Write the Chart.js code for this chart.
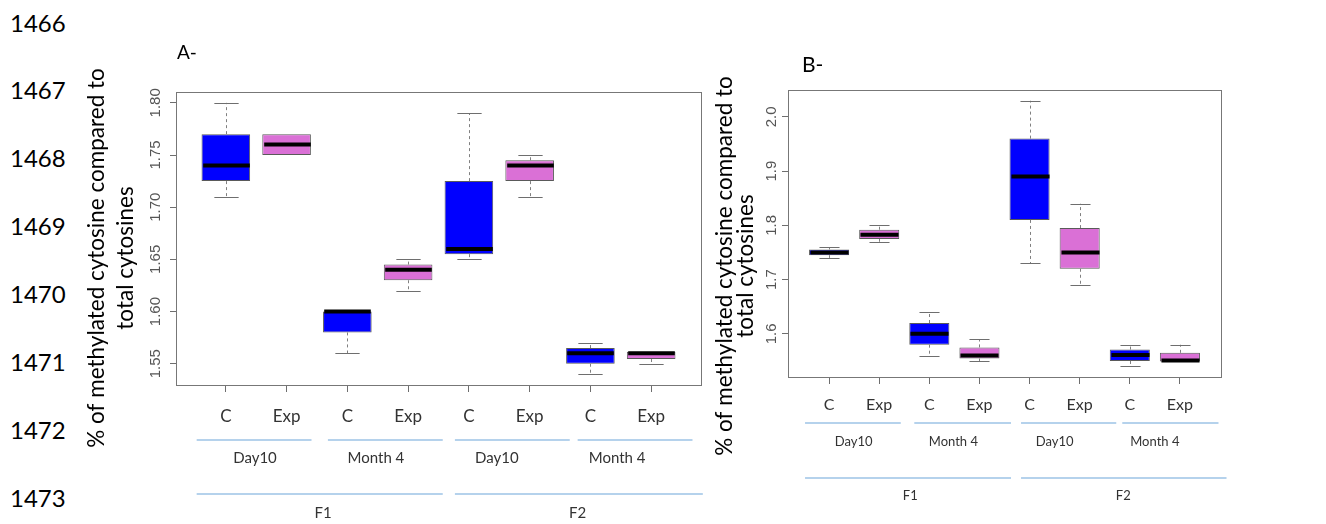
<!DOCTYPE html>
<html>
<head>
<meta charset="utf-8">
<script src="https://cdn.jsdelivr.net/npm/chart.js@4.4.1/dist/chart.umd.min.js"></script>
<style>
  body { margin: 0; background: #fff; width: 1326px; height: 524px; overflow: hidden; position: relative; font-family: Lato, sans-serif; }
  .ln { position: absolute; left: 10px; font-size: 24px; line-height: 24px; color: #000; }
  canvas { position: absolute; }
  #chartA { left: 80px; top: 40px; }
  #chartB { left: 700px; top: 40px; }
</style>
</head>
<body>
<div id="gutter"></div>
<canvas id="chartA" width="640" height="484"></canvas>
<canvas id="chartB" width="626" height="484"></canvas>
<script>
// line numbers of the manuscript page
const lineNumbers = ['1466', '1467', '1468', '1469', '1470', '1471', '1472', '1473'];

const categories = ['C', 'Exp', 'C', 'Exp', 'C', 'Exp', 'C', 'Exp'];
const periods = ['Day10', 'Month 4', 'Day10', 'Month 4'];
const generations = ['F1', 'F2'];
const yTitle = ['% of methylated cytosine compared to', 'total cytosines'];

// panel A box stats
const aLow = [1.71, 1.75, 1.56, 1.62, 1.65, 1.71, 1.54, 1.55];
const aQ1  = [1.725, 1.75, 1.58, 1.63, 1.655, 1.725, 1.55, 1.5545];
const aMed = [1.74, 1.76, 1.60, 1.64, 1.66, 1.74, 1.56, 1.56];
const aQ3  = [1.77, 1.77, 1.60, 1.645, 1.725, 1.745, 1.565, 1.5615];
const aHigh = [1.80, 1.77, 1.60, 1.65, 1.79, 1.75, 1.57, 1.5615];

// panel B box stats
const bLow = [1.74, 1.77, 1.56, 1.549, 1.73, 1.69, 1.54, 1.549];
const bQ1  = [1.745, 1.775, 1.58, 1.5545, 1.81, 1.72, 1.55, 1.549];
const bMed = [1.75, 1.7825, 1.60, 1.56, 1.89, 1.75, 1.561, 1.551];
const bQ3  = [1.7555, 1.792, 1.62, 1.575, 1.96, 1.795, 1.571, 1.565];
const bHigh = [1.76, 1.80, 1.64, 1.59, 2.03, 1.84, 1.58, 1.58];

const BLUE = '#0000ff';
const ORCHID = '#da70d6';
const fills = categories.map(c => c === 'C' ? BLUE : ORCHID);

// gutter line numbers
const gutter = document.getElementById('gutter');
lineNumbers.forEach((n, i) => {
    const d = document.createElement('div');
    d.className = 'ln';
    d.textContent = n;
    d.style.top = (10.5 + i * 67.9) + 'px';
    gutter.appendChild(d);
});

function line(ctx, x1, y1, x2, y2) {
    ctx.beginPath();
    ctx.moveTo(x1, y1);
    ctx.lineTo(x2, y2);
    ctx.stroke();
}

// draws whiskers, medians, frame, titles and the group brackets
function boxPlugin(st, L) {
    return {
        id: 'boxes',
        afterDatasetsDraw(chart) {
            const { ctx, scales: { x, y } } = chart;
            const bars = chart.getDatasetMeta(0).data;
            ctx.save();
            st.low.forEach((lo, i) => {
                const cx = Math.round(x.getPixelForValue(i + 1)) + 0.5;
                const w = bars[i].width;
                const yLo = y.getPixelForValue(lo);
                const yQ1 = y.getPixelForValue(st.q1[i]);
                const yMed = y.getPixelForValue(st.med[i]);
                const yQ3 = y.getPixelForValue(st.q3[i]);
                const yHi = y.getPixelForValue(st.high[i]);
                ctx.lineWidth = 1;
                ctx.strokeStyle = '#808080';
                ctx.setLineDash([3, 3]);
                if (st.high[i] > st.q3[i]) line(ctx, cx, yQ3, cx, yHi);
                if (lo < st.q1[i]) line(ctx, cx, yQ1, cx, yLo);
                ctx.setLineDash([]);
                ctx.strokeStyle = '#6e6e6e';
                if (st.high[i] > st.q3[i]) line(ctx, cx - w / 4, Math.round(yHi) + 0.5, cx + w / 4, Math.round(yHi) + 0.5);
                if (lo < st.q1[i]) line(ctx, cx - w / 4, Math.round(yLo) + 0.5, cx + w / 4, Math.round(yLo) + 0.5);
                ctx.strokeStyle = '#000';
                ctx.lineWidth = 4;
                line(ctx, cx - w / 2 + 1, yMed, cx + w / 2 - 1, yMed);
            });
            ctx.restore();
        },
        afterDraw(chart) {
            const { ctx, chartArea: a, scales: { x } } = chart;
            ctx.save();
            // plot frame
            ctx.strokeStyle = '#777';
            ctx.lineWidth = 1;
            ctx.strokeRect(Math.round(a.left) + 0.5, Math.round(a.top) + 0.5, Math.round(a.right - a.left), Math.round(a.bottom - a.top));

            // panel letter
            ctx.fillStyle = '#000';
            ctx.font = L.letterSize + 'px Lato';
            ctx.textAlign = 'left';
            ctx.textBaseline = 'middle';
            ctx.fillText(L.letter, a.left + L.letterDx, a.top + L.letterDy);

            // y title, two lines rotated
            ctx.font = L.titleSize + 'px Lato';
            ctx.textAlign = 'center';
            yTitle.forEach((t, k) => {
                ctx.save();
                ctx.translate(a.left + L.titleX[k], a.top + L.titleY);
                ctx.rotate(-Math.PI / 2);
                ctx.fillText(t, 0, 0);
                ctx.restore();
            });

            // brackets under the axis
            ctx.strokeStyle = '#9dc3e6';
            ctx.lineWidth = 1.5;
            ctx.fillStyle = '#333';
            ctx.font = L.groupSize + 'px Lato';
            periods.forEach((p, k) => {
                const [s, e] = L.periodSpan[k];
                line(ctx, x.getPixelForValue(s), a.bottom + L.periodLineDy, x.getPixelForValue(e), a.bottom + L.periodLineDy);
                ctx.fillText(p, x.getPixelForValue(L.periodAt[k]), a.bottom + L.periodTextDy);
            });
            generations.forEach((g, k) => {
                const [s, e] = L.genSpan[k];
                line(ctx, x.getPixelForValue(s), a.bottom + L.genLineDy, x.getPixelForValue(e), a.bottom + L.genLineDy);
                ctx.fillText(g, x.getPixelForValue(L.genAt[k]), a.bottom + L.genTextDy);
            });
            ctx.restore();
        }
    };
}

function makePanel(id, st, L) {
    // R style ranges: 4% padding around data, boxes at 1..n
    const lo = Math.min(...st.low), hi = Math.max(...st.high);
    const pad = (hi - lo) * 0.04;
    const n = categories.length;
    return new Chart(document.getElementById(id), {
        type: 'bar',
        data: {
            datasets: [{
                data: categories.map((c, i) => ({ x: i + 1, y: [st.q1[i], st.q3[i]] })),
                backgroundColor: fills,
                borderColor: '#5a5a5a',
                borderWidth: 1,
                borderSkipped: false,
                categoryPercentage: 1,
                barPercentage: 0.8
            }]
        },
        options: {
            responsive: false,
            animation: false,
            layout: { padding: { left: 0, top: L.padTop, right: L.padRight, bottom: 0 } },
            plugins: { legend: { display: false }, tooltip: { enabled: false } },
            scales: {
                x: {
                    type: 'linear',
                    offset: false,
                    min: 0.5 - n * 0.04,
                    max: n + 0.5 + n * 0.04,
                    grid: { offset: false, drawOnChartArea: false, tickLength: 7, color: '#6e6e6e' },
                    border: { display: false },
                    ticks: {
                        stepSize: 1,
                        includeBounds: false,
                        autoSkip: false,
                        maxRotation: 0,
                        padding: L.catPad,
                        color: '#333',
                        font: { family: 'Lato', size: L.catSize },
                        callback: v => categories[Math.round(v) - 1]
                    },
                    afterFit: s => { s.height = L.xHeight; }
                },
                y: {
                    min: lo - pad,
                    max: hi + pad,
                    grid: { drawOnChartArea: false, tickLength: 6, color: '#6e6e6e' },
                    border: { display: false },
                    ticks: {
                        stepSize: L.step,
                        includeBounds: false,
                        minRotation: 90,
                        maxRotation: 90,
                        crossAlign: 'center',
                        padding: 0,
                        color: '#555',
                        font: { family: 'Liberation Sans', size: 15 },
                        callback: v => v.toFixed(L.decimals)
                    },
                    afterFit: s => { s.width = L.yWidth; }
                }
            }
        },
        plugins: [boxPlugin(st, L)]
    });
}

makePanel('chartA', { low: aLow, q1: aQ1, med: aMed, q3: aQ3, high: aHigh }, {
    padTop: 52, padRight: 19, xHeight: 139, yWidth: 96,
    step: 0.05, decimals: 2, catSize: 17, catPad: 14,
    letter: 'A-', letterSize: 19, letterDx: 1, letterDy: -39,
    titleSize: 22.5, titleX: [-79, -50], titleY: 166,
    groupSize: 15,
    periodSpan: [[0.52, 2.41], [2.68, 4.57], [4.77, 6.66], [6.79, 8.68]],
    periodAt: [1.48, 3.47, 5.46, 7.44],
    genSpan: [[0.52, 4.57], [4.77, 8.85]],
    genAt: [2.6, 6.79],
    periodLineDy: 55, periodTextDy: 73, genLineDy: 109, genTextDy: 128
});

makePanel('chartB', { low: bLow, q1: bQ1, med: bMed, q3: bQ3, high: bHigh }, {
    padTop: 50, padRight: 105, xHeight: 147, yWidth: 88,
    step: 0.1, decimals: 1, catSize: 16, catPad: 11,
    letter: 'B-', letterSize: 21, letterDx: 14, letterDy: -25,
    titleSize: 22.5, titleX: [-63, -42], titleY: 176,
    groupSize: 13,
    periodSpan: [[0.52, 2.43], [2.70, 4.63], [4.83, 6.73], [6.85, 8.77]],
    periodAt: [1.49, 3.48, 5.50, 7.50],
    genSpan: [[0.52, 4.63], [4.83, 8.93]],
    genAt: [2.62, 6.87],
    periodLineDy: 46, periodTextDy: 65, genLineDy: 101, genTextDy: 119
});
</script>
</body>
</html>
